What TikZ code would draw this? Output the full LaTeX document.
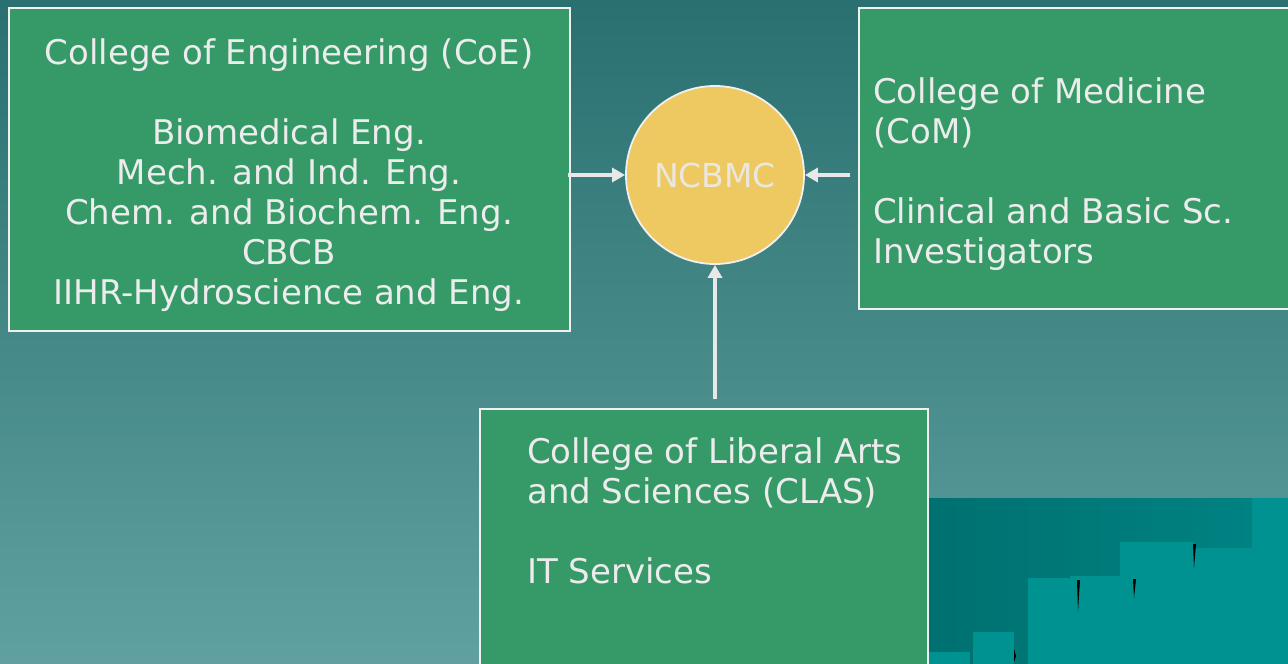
\documentclass[tikz,border=0pt]{standalone}
\usepackage{fontspec}
\setmainfont{DejaVu Sans}
\usetikzlibrary{arrows.meta,calc}
\definecolor{bgtop}{RGB}{42,112,112}
\definecolor{bgbot}{RGB}{96,160,160}
\definecolor{boxgreen}{RGB}{53,154,104}
\definecolor{framecol}{RGB}{240,240,240}
\definecolor{txt}{RGB}{236,236,236}
\definecolor{hubfill}{RGB}{238,200,96}
\definecolor{hubtxt}{RGB}{234,232,222}
\definecolor{arrowcol}{RGB}{232,232,232}
\definecolor{tealdark}{RGB}{0,112,112}
\definecolor{tealmid}{RGB}{0,132,132}
\definecolor{teallight}{RGB}{0,146,144}
\begin{document}
\begin{tikzpicture}[x=1pt,y=-1pt,
  unitbox/.style={draw=framecol, line width=1.5pt, fill=boxgreen, rectangle, inner sep=0pt},
  unitlabel/.style={text=txt, font=\fontsize{34}{40}\selectfont, inner sep=0pt},
  hubnode/.style={circle, fill=hubfill, draw=framecol, line width=1.8pt, minimum size=178pt, inner sep=0pt, text=hubtxt, font=\fontsize{33}{40}\selectfont},
  link/.style={draw=arrowcol, line width=4pt, -{Triangle[length=13pt,width=14pt]}},
  bar/.style={fill=teallight}]
\clip (0,0) rectangle (1288,664);
\useasboundingbox (0,0) rectangle (1288,664);
\shade[top color=bgtop, bottom color=bgbot] (0,0) rectangle (1288,664);
% decoration bottom right
\shade[left color=tealdark, right color=tealmid] (929,498) rectangle (1288,664);
\fill[bar] (1252,498) rectangle (1288,664);
\fill[bar] (1028,578) rectangle (1078,664);
\fill[bar] (1070,576) rectangle (1134,664);
\fill[bar] (1120,542) rectangle (1194,664);
\fill[bar] (1194,548) rectangle (1252,664);
\fill[bar] (973,632) rectangle (1014,664);
\fill[bar] (929,652) rectangle (970,664);
\fill[black] (1077,580) -- (1080,580) -- (1078,612) -- cycle;
\fill[black] (1133,579) -- (1136,579) -- (1134,598) -- cycle;
\fill[black] (1193,544) -- (1196,544) -- (1194,568) -- cycle;
\fill[black] (1014,649) -- (1016,656) -- (1014,662) -- cycle;
% boxes
\node[unitbox, minimum width=561pt, minimum height=323pt] (coe) at (289.5,169.5) {};
\node[unitbox, minimum width=441pt, minimum height=301pt] (com) at (1079.5,158.5) {};
\node[unitbox, minimum width=448pt, minimum height=291pt] (clas) at (704,554.5) {};
\node[unitlabel, align=center, anchor=north] (coetext) at (289,38)
  {College of Engineering (CoE)\\[40pt]Biomedical Eng.\\Mech. and Ind. Eng.\\Chem. and Biochem. Eng.\\CBCB\\IIHR-Hydroscience and Eng.};
\node[unitlabel, align=left, anchor=north west] (comtext) at (873,77)
  {College of Medicine\\(CoM)\\[40pt]Clinical and Basic Sc.\\Investigators};
\node[unitlabel, align=left, anchor=north west] (clastext) at (527,437)
  {College of Liberal Arts\\and Sciences (CLAS)\\[40pt]IT Services};
% hub
\node[hubnode] (hub) at (715,175) {NCBMC};
% connectors
\draw[link] ($(hub.west -| coe.east)+(-3,0)$) -- (hub.west);
\draw[link] ($(hub.east -| com.west)+(-8,0)$) -- (hub.east);
\draw[link] ($(hub.south |- clas.north)+(0,-9)$) -- (hub.south);
\end{tikzpicture}
\end{document}
